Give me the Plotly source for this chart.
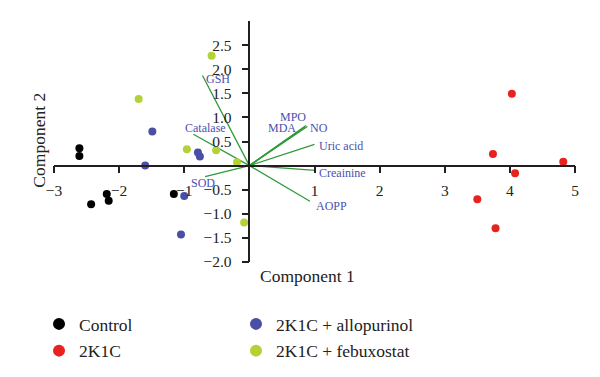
import plotly.graph_objects as go

# ---- data ----
groups = ["Control", "2K1C", "2K1C + allopurinol", "2K1C + febuxostat"]
control_x = [-2.61, -2.61, -2.19, -2.16, -2.43, -1.16]
control_y = [0.36, 0.20, -0.59, -0.73, -0.80, -0.59]
k1c_x = [4.03, 3.74, 4.82, 4.08, 3.50, 3.78]
k1c_y = [1.49, 0.24, 0.08, -0.16, -0.70, -1.30]
allo_x = [-1.49, -1.60, -0.79, -0.76, -1.00, -1.05]
allo_y = [0.71, 0.00, 0.27, 0.19, -0.63, -1.43]
febu_x = [-0.58, -1.70, -0.96, -0.51, -0.19, -0.08]
febu_y = [2.28, 1.38, 0.34, 0.32, 0.07, -1.18]

variables = ["GSH", "Catalase", "SOD", "MPO", "MDA", "NO", "Uric acid", "Creainine", "AOPP"]
load_x = [-0.72, -0.86, -0.68, 0.87, 0.85, 0.89, 1.00, 1.01, 0.93]
load_y = [1.87, 0.65, -0.23, 0.83, 0.80, 0.81, 0.44, -0.10, -0.74]

x_ticks = [-3, -2, -1, 1, 2, 3, 4, 5]
y_ticks = [2.5, 2.0, 1.5, 1.0, 0.5, -0.5, -1.0, -1.5, -2.0]

# ---- styles ----
colors = ["#000000", "#e8221f", "#4a4fa6", "#b3d236"]
legend_ids = ["legend", "legend", "legend2", "legend2"]
label_shift = {  # (xshift, yshift) px
    "GSH": (16, -4), "Catalase": (12, 6), "SOD": (-2, -6), "MPO": (-13, 9),
    "MDA": (-23, -1), "NO": (12, -1), "Uric acid": (26, -2),
    "Creainine": (27, -3), "AOPP": (22, -5),
}
FONT = "Liberation Serif, DejaVu Serif, serif"
AXC = "#231f20"
W, H = 584, 369          # page body has an 8px margin
OFF = 8
PL, PR, PT, PB = 54.3, 575.0, 20.8, 262.3   # plot area in window px
PW, PH = PR - PL, PB - PT

fig = go.Figure()

# loading vectors
vx, vy = [], []
for lx, ly in zip(load_x, load_y):
    vx += [0, lx, None]
    vy += [0, ly, None]
fig.add_trace(go.Scatter(x=vx, y=vy, mode="lines", line=dict(color="#2f9a3a", width=1.3),
                         showlegend=False, hoverinfo="skip"))

series = [(control_x, control_y), (k1c_x, k1c_y), (allo_x, allo_y), (febu_x, febu_y)]
for i, (name, (xs, ys)) in enumerate(zip(groups, series)):
    fig.add_trace(go.Scatter(x=xs, y=ys, mode="markers", name=name,
                             marker=dict(color=colors[i], size=8),
                             legend=legend_ids[i], legendgroup=name))

for name, lx, ly in zip(variables, load_x, load_y):
    sx, sy = label_shift[name]
    fig.add_annotation(x=lx, y=ly, text=name, showarrow=False, xshift=sx, yshift=sy,
                       font=dict(family=FONT, size=12, color="#4a50b0"))

fig.add_annotation(text="Component 1", xref="paper", yref="paper", x=(308 - PL) / PW,
                   y=(PB - 288) / PH, showarrow=False,
                   font=dict(family=FONT, size=17.5, color="#222"))
fig.add_annotation(text="Component 2", xref="paper", yref="paper", x=(27 - PL) / PW,
                   y=(PB - 140) / PH, showarrow=False, textangle=-90,
                   font=dict(family=FONT, size=17.5, color="#222"))

legend_common = dict(orientation="v", xref="container", yref="container",
                     xanchor="left", yanchor="top", bgcolor="rgba(0,0,0,0)",
                     font=dict(family=FONT, size=17.5, color="#222"),
                     tracegroupgap=1, itemsizing="constant")

fig.update_layout(
    width=W, height=H,
    margin=dict(l=PL - OFF, r=W - (PR - OFF), t=PT - OFF, b=H - (PB - OFF), autoexpand=False),
    paper_bgcolor="white", plot_bgcolor="white",
    font=dict(family=FONT, color="#222"),
    xaxis=dict(range=[-3, 5], anchor="free", position=2 / 5, showline=True, linecolor=AXC,
               linewidth=1.5, ticks="outside", ticklen=7, tickwidth=1.5, tickcolor=AXC,
               tickvals=x_ticks, ticktext=[("\u2212" + str(-v)) if v < 0 else str(v) for v in x_ticks],
               tickangle=0, automargin=False, ticklabelstandoff=4,
               tickfont=dict(family=FONT, size=15.5, color="#222"), showgrid=False, zeroline=False),
    yaxis=dict(range=[-2, 3], anchor="free", position=3 / 8, showline=True, linecolor=AXC,
               linewidth=1.5, ticks="outside", ticklen=7, tickwidth=1.5, tickcolor=AXC,
               tickvals=y_ticks, ticktext=[("\u2212%.1f" % -v) if v < 0 else "%.1f" % v for v in y_ticks],
               automargin=False, ticklabelstandoff=7,
               tickfont=dict(family=FONT, size=15.5, color="#222"), showgrid=False, zeroline=False),
    legend=dict(x=(39 - OFF) / W, y=1 - (306 - OFF) / H, **legend_common),
    legend2=dict(x=(236 - OFF) / W, y=1 - (306 - OFF) / H, **legend_common),
    showlegend=True,
)

fig.write_html("out.html")
